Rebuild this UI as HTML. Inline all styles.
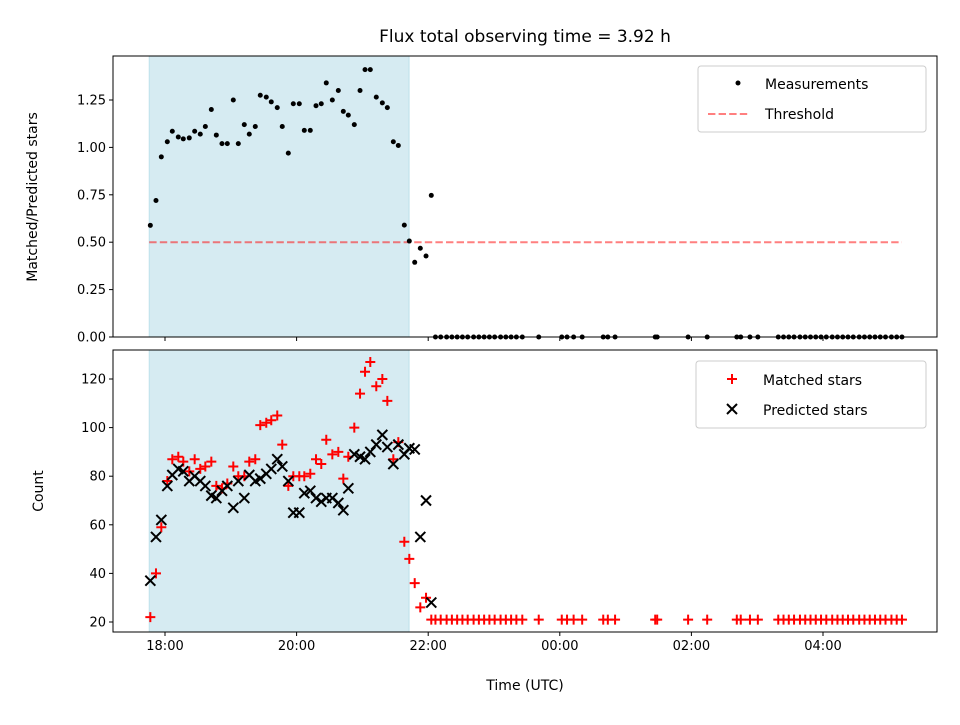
<!DOCTYPE html>
<html><head><meta charset="utf-8"><style>
body{margin:0;background:#fff;font-family:"Liberation Sans","DejaVu Sans",sans-serif;}
svg text{font-family:"DejaVu Sans","Liberation Sans",sans-serif;}
</style></head><body>
<svg id="c" width="960" height="720" xmlns="http://www.w3.org/2000/svg"></svg>
<script>
// hours since 18:00
const times = [-0.223,-0.137,-0.056,0.035,0.111,0.202,0.278,0.369,0.451,0.536,0.613,0.704,0.780,0.866,0.947,1.038,1.114,1.205,1.281,1.372,1.448,1.539,1.615,1.706,1.782,1.874,1.950,2.041,2.117,2.208,2.295,2.375,2.451,2.543,2.634,2.710,2.786,2.877,2.964,3.040,3.120,3.211,3.303,3.379,3.470,3.546,3.637,3.713,3.795,3.880,3.967,4.047];
const ratio = [0.589,0.72,0.95,1.03,1.085,1.055,1.045,1.05,1.085,1.07,1.11,1.20,1.065,1.02,1.02,1.25,1.02,1.12,1.07,1.11,1.275,1.265,1.24,1.21,1.11,0.97,1.23,1.23,1.09,1.09,1.22,1.23,1.34,1.25,1.30,1.19,1.17,1.12,1.30,1.41,1.41,1.265,1.235,1.21,1.03,1.01,0.59,0.506,0.394,0.468,0.427,0.747];
const predicted = [37,55,62,76,80.5,83,82,78,80,78,76,72,71,74,76,67,78,71,80.5,78,79,81,83,87,84,78,65,65,73,74,71,69.5,71,71,69,66,75,89,88,87,90,93,97,92,85,93,89,91.5,91,55,70,28];
const matched = [22,40,59,78,87,88,86,82,87,83,84,86,76,75,77,84,80,80,86,87,101,102,103,105,93,76,80,80,80,81,87,85,95,89,90,79,88,100,114,123,127,117,120,111,87,94,53,46,36,26,30,21];
const zeroTimes = [4.11,4.19,4.28,4.36,4.44,4.52,4.60,4.69,4.77,4.85,4.93,5.01,5.10,5.18,5.26,5.34,5.43,5.68,6.03,6.11,6.21,6.34,6.66,6.73,6.84,7.45,7.48,7.95,8.24,8.69,8.75,8.89,9.01,9.32,9.40,9.48,9.56,9.65,9.73,9.81,9.89,9.97,10.05,10.14,10.22,10.30,10.38,10.46,10.55,10.63,10.71,10.79,10.87,10.95,11.04,11.12,11.20];
const zeroMatched = 21;
const xTicks = [0,2,4,6,8,10];
const xTickLabels = ["18:00","20:00","22:00","00:00","02:00","04:00"];
const topTicks = [0,0.25,0.5,0.75,1.0,1.25];
const botTicks = [20,40,60,80,100,120];
const threshold = 0.5;
const shadeRange = [-0.24,3.71];

const S = document.getElementById('c');
const NS='http://www.w3.org/2000/svg';
function el(t,a,p){const e=document.createElementNS(NS,t);for(const k in a)e.setAttribute(k,a[k]);(p||S).appendChild(e);return e;}
const L=113,R=937;
const X=h=>165+h*65.8;
const Yt=v=>337-v*189.6;
const Yb=v=>622-(v-20)*2.43;

function panel(top,bot,yfn,ticks,fmt,name){
  const g=el('g',{});
  
  
  const sh=el('rect',{x:X(shadeRange[0]),y:top,width:X(shadeRange[1])-X(shadeRange[0]),height:bot-top,fill:'#add8e6','fill-opacity':0.5,stroke:'#add8e6','stroke-opacity':0.7},g);
  
  
  ticks.forEach(t=>{const y=yfn(t);el('line',{x1:L-4,x2:L,y1:y,y2:y,stroke:'#000'},g);
    const tx=el('text',{x:L-7,y:y+4.5,'text-anchor':'end','font-size':13},g);tx.textContent=fmt(t);
    
    });
  xTicks.forEach(t=>{el('line',{x1:X(t),x2:X(t),y1:bot,y2:bot+4,stroke:'#000'},g);});
  return g;
}
const gt=panel(56,337,Yt,topTicks,v=>v.toFixed(2),'top-panel');
const gb=panel(350,632,Yb,botTicks,v=>String(v),'bottom-panel');

const th=el('line',{x1:X(shadeRange[0]),x2:X(11.2),y1:Yt(threshold),y2:Yt(threshold),stroke:'#ff0000','stroke-opacity':0.5,'stroke-width':2,'stroke-dasharray':'7.4,3.2'},gt);


times.forEach((t,i)=>{const c=el('circle',{cx:X(t),cy:Yt(ratio[i]),r:2.5,fill:'#000'},gt);
  
  });
zeroTimes.forEach(t=>{const c=el('circle',{cx:X(t),cy:Yt(0),r:2.5,fill:'#000'},gt);
  
  });

function plus(x,y){const p=el('path',{d:`M${x-5},${y}H${x+5}M${x},${y-5}V${y+5}`,stroke:'#ff0000','stroke-width':2},gb);
  
  }
function cross(x,y){const p=el('path',{d:`M${x-5},${y-5}L${x+5},${y+5}M${x-5},${y+5}L${x+5},${y-5}`,stroke:'#000','stroke-width':2},gb);
  
  }
times.forEach((t,i)=>plus(X(t),Yb(matched[i])));
zeroTimes.forEach(t=>plus(X(t),Yb(zeroMatched)));
times.forEach((t,i)=>cross(X(t),Yb(predicted[i])));

[[56,337],[350,632]].forEach(([a,b])=>el('rect',{x:L,y:a,width:R-L,height:b-a,fill:'none',stroke:'#000','stroke-width':1}));
xTicks.forEach((t,i)=>{const tx=el('text',{x:X(t),y:650,'text-anchor':'middle','font-size':13});tx.textContent=xTickLabels[i];
  
  });

function txt(s,a,name){const t=el('text',a);t.textContent=s;return t;}
txt('Flux total observing time = 3.92 h',{x:525,y:42,'text-anchor':'middle','font-size':17},'chart-title');
txt('Time (UTC)',{x:525,y:690,'text-anchor':'middle','font-size':14},'x-axis-title');
txt('Matched/Predicted stars',{x:37,y:197,'text-anchor':'middle','font-size':14,transform:'rotate(-90 37 197)'},'top-y-axis-title');
txt('Count',{x:43,y:491,'text-anchor':'middle','font-size':14,transform:'rotate(-90 43 491)'},'bottom-y-axis-title');

const l1=el('g',{});


el('rect',{x:698,y:66,width:228,height:66,rx:3,fill:'#fff','fill-opacity':0.8,stroke:'#ccc'},l1);
el('circle',{cx:738,cy:83,r:2.5,fill:'#000'},l1);
el('line',{x1:708,x2:748,y1:114,y2:114,stroke:'#ff0000','stroke-opacity':0.5,'stroke-width':2,'stroke-dasharray':'7.4,3.2'},l1);
const a1=el('text',{x:765,y:89,'font-size':14},l1);a1.textContent='Measurements';
const a2=el('text',{x:765,y:119,'font-size':14},l1);a2.textContent='Threshold';
const l2=el('g',{});


el('rect',{x:696,y:361,width:230,height:67,rx:3,fill:'#fff','fill-opacity':0.8,stroke:'#ccc'},l2);
el('path',{d:'M727,379H737M732,374V384',stroke:'#ff0000','stroke-width':2},l2);
el('path',{d:'M727,404L737,414M727,414L737,404',stroke:'#000','stroke-width':2},l2);
const b1=el('text',{x:763,y:385,'font-size':14},l2);b1.textContent='Matched stars';
const b2=el('text',{x:763,y:415,'font-size':14},l2);b2.textContent='Predicted stars';
</script>
</body></html>
